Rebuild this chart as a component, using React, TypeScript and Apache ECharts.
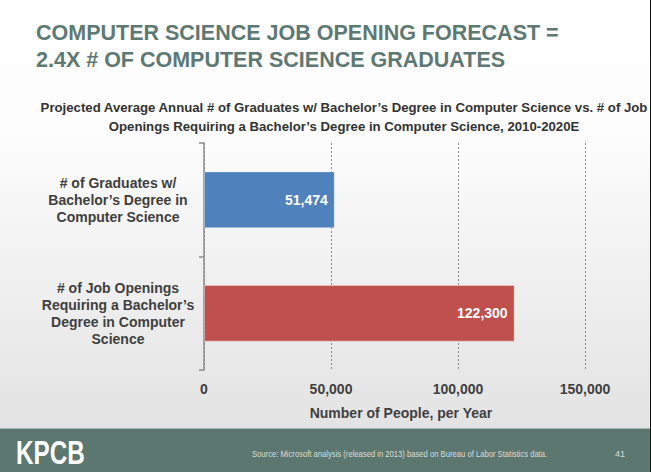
import React, { useEffect, useRef } from "react";
import * as echarts from "echarts";

const categories = [
  "# of Graduates w/\nBachelor’s Degree in\nComputer Science",
  "# of Job Openings\nRequiring a Bachelor’s\nDegree in Computer\nScience",
];
const values = [51474, 122300];
const barColors = ["#4f81bd", "#c0504d"];
const xTicks = [0, 50000, 100000, 150000];

const titleText = "COMPUTER SCIENCE JOB OPENING FORECAST =\n2.4X # OF COMPUTER SCIENCE GRADUATES";
const subtitleText =
  "Projected Average Annual # of Graduates w/ Bachelor’s Degree in Computer Science vs. # of Job\nOpenings Requiring a Bachelor’s Degree in Computer Science, 2010-2020E";
const axisTitle = "Number of People, per Year";
const sourceText = "Source: Microsoft analysis (released in 2013) based on Bureau of Labor Statistics data.";
const pageNumber = "41";
const brand = "KPCB";

const fmt = (v: number) => v.toLocaleString("en-US");

export default function App() {
  const ref = useRef<HTMLDivElement>(null);
  useEffect(() => {
    if (!ref.current) return;
    const chart = echarts.init(ref.current, null, { renderer: "svg" });
    const font = "'Liberation Sans', Arial, sans-serif";
    chart.setOption({
      animation: false,
      backgroundColor: new echarts.graphic.LinearGradient(0, 0, 0, 1, [
        { offset: 0, color: "#ffffff" },
        { offset: 0.3, color: "#fcfcfc" },
        { offset: 0.9, color: "#e3e3e3" },
        { offset: 1, color: "#e0e0e0" },
      ]),
      textStyle: { fontFamily: font },
      title: [
        {
          text: titleText,
          left: 31,
          top: 14,
          textStyle: { color: "#5e7974", fontSize: 21.5, fontWeight: "bold", lineHeight: 27, fontFamily: font },
        },
        {
          text: subtitleText,
          left: 339,
          textAlign: "center",
          top: 93,
          textStyle: { color: "#333333", fontSize: 13.2, fontWeight: "bold", lineHeight: 19, fontFamily: font },
        },
      ],
      grid: { left: 204, right: 66, top: 143, bottom: 102, containLabel: false },
      xAxis: {
        type: "value",
        min: 0,
        max: 150000,
        interval: 50000,
        axisLine: { show: false },
        axisTick: { show: false },
        axisLabel: {
          formatter: (v: number) => (xTicks.includes(v) ? fmt(v) : ""),
          color: "#404040",
          fontSize: 14,
          fontWeight: "bold",
          margin: 12,
        },
        splitLine: { show: true, lineStyle: { color: "#8a8a8a", type: [2, 2], width: 1 } },
        name: axisTitle,
        nameLocation: "middle",
        nameGap: 36,
        nameTextStyle: { color: "#404040", fontSize: 14, fontWeight: "bold", padding: [0, 0, 0, 13] },
      },
      yAxis: {
        type: "category",
        data: categories,
        inverse: true,
        axisLine: { show: true, lineStyle: { color: "#8c8c8c", width: 1.5 } },
        axisTick: { show: true, length: 5, lineStyle: { color: "#8c8c8c", width: 1.5 } },
        axisLabel: {
          color: "#404040",
          fontSize: 14,
          fontWeight: "bold",
          lineHeight: 17,
          align: "center",
          margin: 86,
        },
        splitLine: { show: false },
      },
      series: [
        {
          type: "bar",
          data: values.map((v, i) => ({ value: v, itemStyle: { color: barColors[i] } })),
          barWidth: "50%",
          itemStyle: { borderColor: "rgba(255,255,255,0.35)", borderWidth: 1 },
          label: {
            show: true,
            position: "insideRight",
            distance: 7,
            color: "#ffffff",
            fontSize: 14,
            fontWeight: "bold",
            formatter: (p: any) => fmt(p.value),
          },
        },
      ],
      graphic: [
        { type: "rect", shape: { x: 0, y: 428, width: 651, height: 1 }, style: { fill: "#a9b3b1" }, silent: true },
        { type: "rect", shape: { x: 0, y: 429, width: 651, height: 43 }, style: { fill: "#5c7670" }, silent: true },
        { type: "rect", shape: { x: 650, y: 0, width: 1, height: 472 }, style: { fill: "#111111" }, silent: true },
        {
          type: "text",
          x: 16,
          y: 453,
          scaleX: 0.81,
          scaleY: 1.08,
          style: {
            text: brand,
            fill: "#ffffff",
            fontSize: 30,
            lineHeight: 24,
            fontWeight: "bold",
            fontFamily: font,
            verticalAlign: "middle",
          },
        },
        {
          type: "text",
          x: 252,
          y: 454,
          scaleX: 0.9,
          style: {
            text: sourceText,
            fill: "#d6dedc",
            fontSize: 8.5,
            fontFamily: font,
            verticalAlign: "middle",
          },
        },
        {
          type: "text",
          x: 615,
          y: 454,
          style: {
            text: pageNumber,
            fill: "#d6dedc",
            fontSize: 9,
            fontFamily: font,
            verticalAlign: "middle",
          },
        },
      ],
    });
    return () => chart.dispose();
  }, []);
  return (
    <div
      ref={ref}
      style={{ position: "fixed", left: 0, top: 0, width: 651, height: 472 }}
    />
  );
}
